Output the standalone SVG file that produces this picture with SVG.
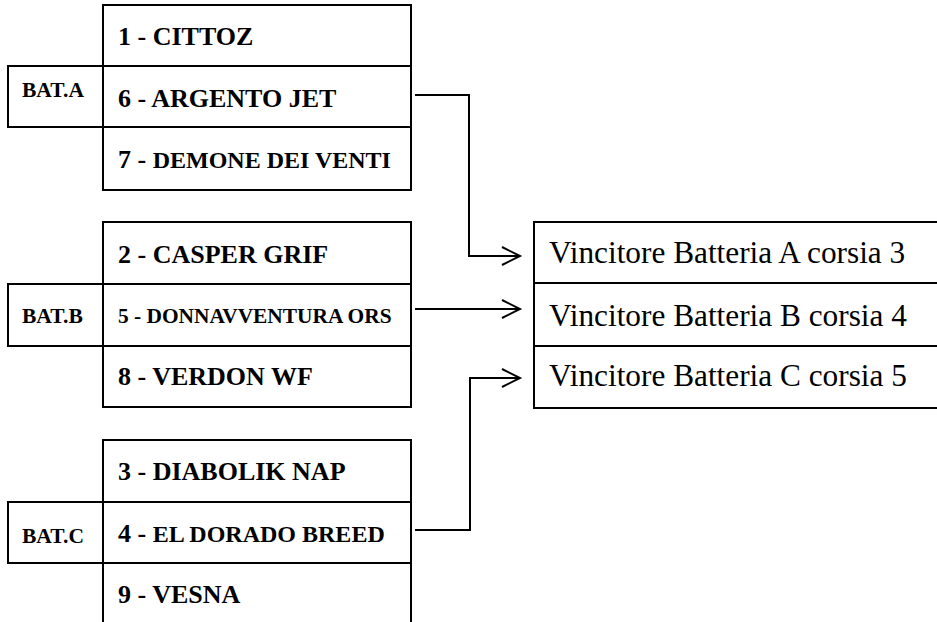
<svg xmlns="http://www.w3.org/2000/svg" width="937" height="622" viewBox="0 0 937 622">
<style>
.box{fill:none;stroke:#000;stroke-width:2}
.t{font-weight:bold;font-size:26px;fill:#000}
.s{font-size:24px}
.b{font-weight:bold;font-size:21.5px;fill:#000}
.r{font-size:31.3px;fill:#000}
.c{fill:none;stroke:#000;stroke-width:2}
</style>
<defs>
<marker id="arr" markerUnits="userSpaceOnUse" markerWidth="22" markerHeight="22" refX="19" refY="10" orient="auto" viewBox="0 0 22 20">
<path d="M1,1 L19,10 L1,19" fill="none" stroke="#000" stroke-width="2"/>
</marker>
</defs>
<rect width="937" height="622" fill="#fff"/>
<g font-family="Liberation Serif, DejaVu Serif, serif">
<g id="batA">
<rect class="box" x="103" y="5" width="308" height="185"/>
<line class="box" x1="103" y1="66" x2="411" y2="66"/>
<line class="box" x1="103" y1="127" x2="411" y2="127"/>
<rect class="box" x="8" y="66" width="95" height="61"/>
<text class="b" x="22" y="97">BAT.A</text>
<text class="t" x="118" y="45">1 - CITTOZ</text>
<text class="t" x="118" y="106.5">6 - ARGENTO JET</text>
<text class="t" x="118" y="168">7 - <tspan class="s">DEMONE DEI VENTI</tspan></text>
</g>
<g id="batB">
<rect class="box" x="103" y="222" width="308" height="185"/>
<line class="box" x1="103" y1="284" x2="411" y2="284"/>
<line class="box" x1="103" y1="346" x2="411" y2="346"/>
<rect class="box" x="8" y="284" width="95" height="62"/>
<text class="b" x="22" y="323">BAT.B</text>
<text class="t" x="118" y="263">2 - CASPER GRIF</text>
<text class="t" x="118" y="323" style="font-size:21.4px">5 - DONNAVVENTURA ORS</text>
<text class="t" x="118" y="385">8 - VERDON WF</text>
</g>
<g id="batC">
<rect class="box" x="103" y="440" width="308" height="190"/>
<line class="box" x1="103" y1="502" x2="411" y2="502"/>
<line class="box" x1="103" y1="563" x2="411" y2="563"/>
<rect class="box" x="8" y="502" width="95" height="61"/>
<text class="b" x="22" y="543">BAT.C</text>
<text class="t" x="118" y="480">3 - DIABOLIK NAP</text>
<text class="t" x="118" y="541.5">4 - <tspan class="s">EL DORADO BREED</tspan></text>
<text class="t" x="118" y="603">9 - VESNA</text>
</g>
<g id="winners">
<rect class="box" x="534" y="222" width="420" height="186"/>
<line class="box" x1="534" y1="283" x2="937" y2="283"/>
<line class="box" x1="534" y1="346" x2="937" y2="346"/>
<text class="r" x="549" y="263">Vincitore Batteria A corsia 3</text>
<text class="r" x="549" y="325.5">Vincitore Batteria B corsia 4</text>
<text class="r" x="549" y="386">Vincitore Batteria C corsia 5</text>
</g>
</g>
<g id="connectors">
<path class="c" d="M415,95 H469 V256 H520" marker-end="url(#arr)"/>
<path class="c" d="M415,309 H520" marker-end="url(#arr)"/>
<path class="c" d="M415,530 H470 V378 H520" marker-end="url(#arr)"/>
</g>
</svg>
